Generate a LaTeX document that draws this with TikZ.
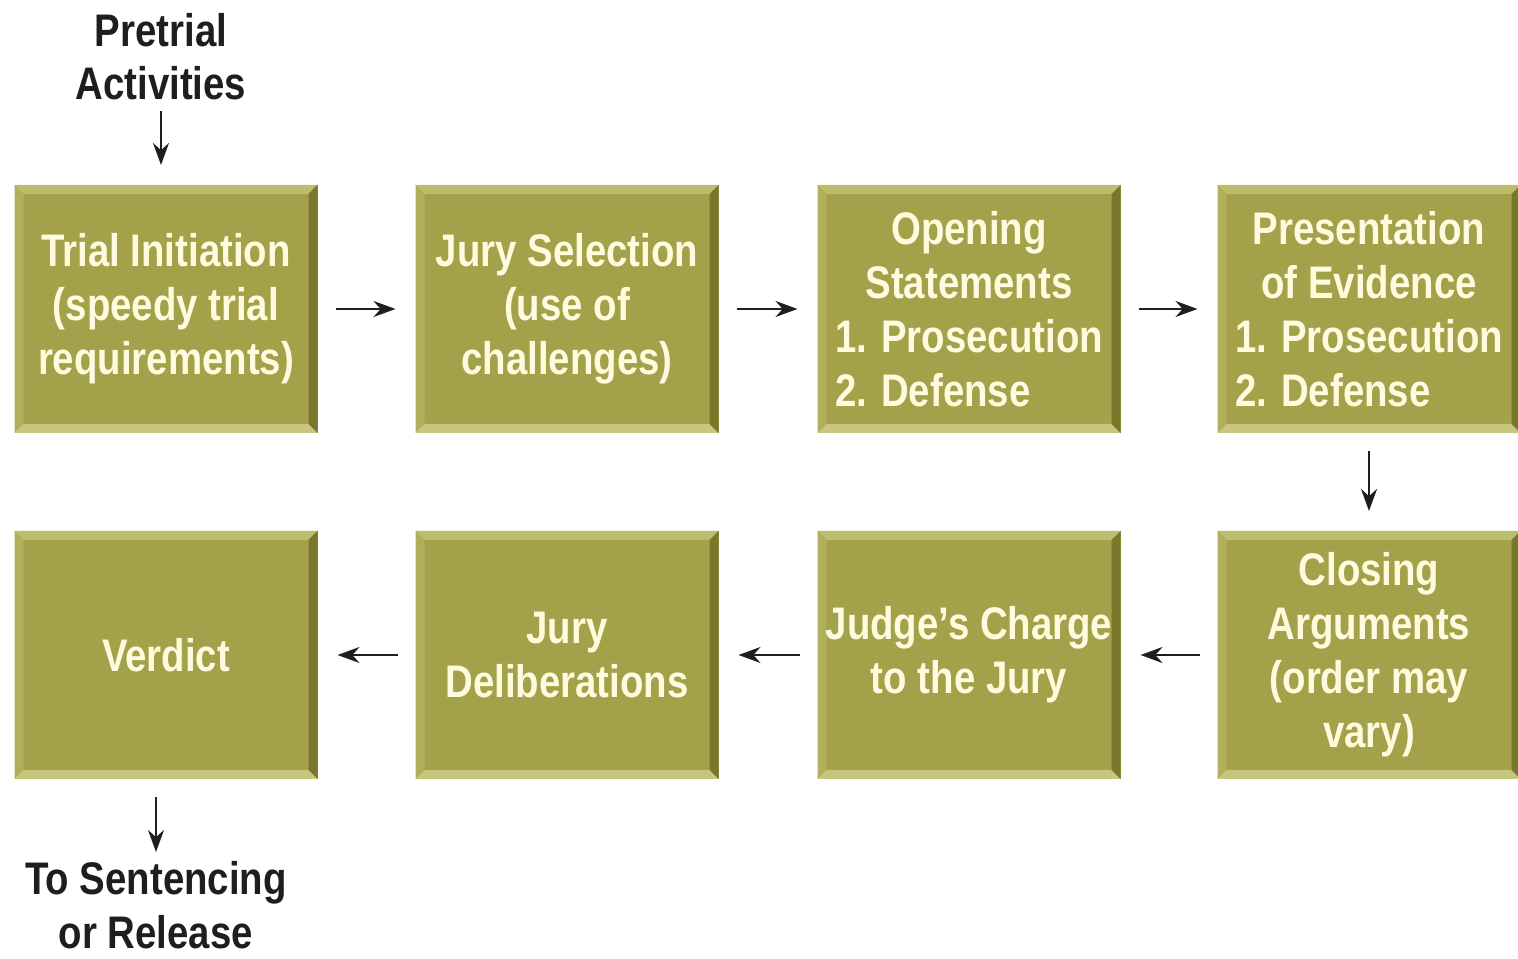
\documentclass[tikz,border=0pt]{standalone}
\usepackage{fontspec}
\setmainfont{Liberation Sans}[FakeStretch=0.84]
\usepackage{calc}
\usetikzlibrary{arrows.meta,positioning}

\definecolor{stagefill}{RGB}{163,162,74}
\definecolor{bevtop}{RGB}{190,189,110}
\definecolor{bevleft}{RGB}{176,175,90}
\definecolor{bevright}{RGB}{120,119,44}
\definecolor{bevbottom}{RGB}{200,198,126}
\definecolor{stagetext}{RGB}{255,251,222}
\definecolor{inktext}{RGB}{30,30,30}

\newcommand{\bev}{0.09cm}
\newcommand{\pdlist}{1. Prosecution\\\makebox[\widthof{1. Prosecution}][l]{2. Defense}}

\tikzset{
  stage/.style={minimum width=3.03cm, minimum height=2.48cm, inner sep=0pt,
    outer sep=0pt, align=center, text=stagetext, fill=stagefill,
    font=\bfseries\fontsize{13}{15.4}\selectfont,
    path picture={
      \path (path picture bounding box.north west) coordinate (nw)
            (path picture bounding box.north east) coordinate (ne)
            (path picture bounding box.south east) coordinate (se)
            (path picture bounding box.south west) coordinate (sw);
      \fill[bevtop] (nw) -- (ne) -- ([shift={(-\bev,-\bev)}]ne) -- ([shift={(\bev,-\bev)}]nw) -- cycle;
      \fill[bevleft] (nw) -- (sw) -- ([shift={(\bev,\bev)}]sw) -- ([shift={(\bev,-\bev)}]nw) -- cycle;
      \fill[bevbottom] (sw) -- (se) -- ([shift={(-\bev,\bev)}]se) -- ([shift={(\bev,\bev)}]sw) -- cycle;
      \fill[bevright] (ne) -- (se) -- ([shift={(-\bev,\bev)}]se) -- ([shift={(-\bev,-\bev)}]ne) -- cycle;
    }},
  outer/.style={inner sep=0pt, align=center, text=inktext,
    font=\bfseries\fontsize{13}{15.2}\selectfont},
  flow/.style={-{Stealth[length=2.2mm,width=1.6mm]}, line width=0.6pt,
    draw=inktext, shorten <=0.18cm, shorten >=0.2cm},
}

\begin{document}
\begin{tikzpicture}
\useasboundingbox (0,0) rectangle (15.18,9.58);

% top row
\node[stage] (init) at (1.66,6.49) {Trial Initiation\\(speedy trial\\requirements)};
\node[stage, right=0.98cm of init] (jury) {Jury Selection\\(use of\\challenges)};
\node[stage, right=0.99cm of jury] (open) {Opening\\Statements\\\pdlist};
\node[stage, right=0.97cm of open] (evid) {Presentation\\of Evidence\\\pdlist};

% bottom row
\node[stage, below=0.98cm of evid] (close) {Closing\\Arguments\\(order may\\vary)};
\node[stage, left=0.97cm of close] (charge) {Judge's Charge\\to the Jury};
\node[stage, left=0.99cm of charge] (delib) {Jury\\Deliberations};
\node[stage, left=0.98cm of delib] (verdict) {Verdict};

% outside labels
\node[outer, anchor=south] (pre) at (1.61,8.57) {Pretrial\\Activities};
\node[outer, anchor=north] (out) at (1.56,0.97) {To Sentencing\\or Release};

% connectors
\draw[flow, shorten <=0.1cm] (pre.south) -- (pre.south |- init.north);
\draw[flow] (init) -- (jury);
\draw[flow] (jury) -- (open);
\draw[flow] (open) -- (evid);
\draw[flow] (evid) -- (close);
\draw[flow] (close) -- (charge);
\draw[flow] (charge) -- (delib);
\draw[flow] (delib) -- (verdict);
\draw[flow, shorten >=0.09cm] (out.north |- verdict.south) -- (out.north);
\end{tikzpicture}
\end{document}
